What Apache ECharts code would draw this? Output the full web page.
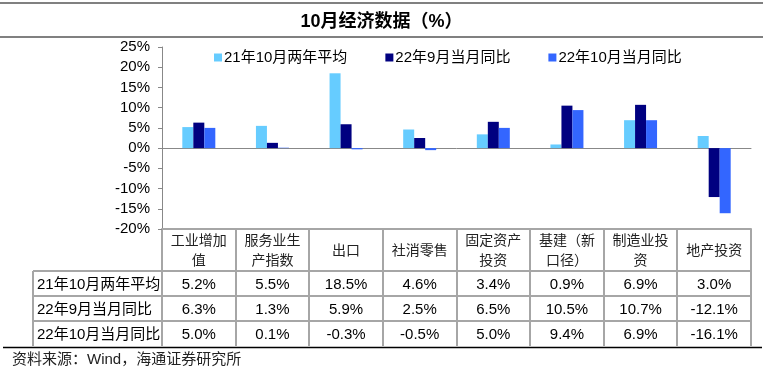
<!DOCTYPE html>
<html>
<head>
<meta charset="utf-8">
<script src="https://cdn.jsdelivr.net/npm/echarts@6/dist/echarts.min.js"></script>
<style>
html,body{margin:0;padding:0;background:#fff;}
#main{width:763px;height:376px;}
</style>
</head>
<body>
<div id="main"></div>
<script>
// 数据
var catLabels = ['工业增加\n值', '服务业生\n产指数', '出口', '社消零售', '固定资产\n投资', '基建（新\n口径）', '制造业投\n资', '地产投资'];
var seriesNames = ['21年10月两年平均', '22年9月当月同比', '22年10月当月同比'];
var avg2y = [5.2, 5.5, 18.5, 4.6, 3.4, 0.9, 6.9, 3.0];
var sep22 = [6.3, 1.3, 5.9, 2.5, 6.5, 10.5, 10.7, -12.1];
var oct22 = [5.0, 0.1, -0.3, -0.5, 5.0, 9.4, 6.9, -16.1];
var yTicks = [-20, -15, -10, -5, 0, 5, 10, 15, 20, 25];

var colors = ['#66CCFF', '#000080', '#3366FF'];
var FONT = 'Liberation Sans, Noto Sans CJK SC, sans-serif';
var gridLine = '#a6a6a6';

var myChart = echarts.init(document.getElementById('main'));

var seriesData = [avg2y, sep22, oct22];
var series = [];
for (var i = 0; i < seriesData.length; i++) {
	series.push({
		name: seriesNames[i],
		type: 'bar',
		barWidth: 11,
		barGap: '0%',
		itemStyle: {color: colors[i]},
		data: seriesData[i]
	});
}

var option = {
	animation: false,
	textStyle: {fontFamily: FONT},
	title: {
		text: '10月经济数据（%）',
		left: 'center',
		top: 8,
		textStyle: {fontSize: 18, fontWeight: 'bold', color: '#000', fontFamily: FONT}
	},
	legend: {
		top: 45,
		left: 209,
		itemWidth: 8,
		itemHeight: 8,
		itemGap: 38,
		icon: 'rect',
		textStyle: {fontSize: 15, color: '#000', padding: [0, 0, 0, -3]},
		data: seriesNames
	},
	grid: {left: 162, right: 12, top: 47, bottom: 147},
	xAxis: [{
		type: 'category',
		data: catLabels,
		axisLine: {onZero: true, lineStyle: {color: '#888', width: 1}},
		axisTick: {show: false},
		axisLabel: {show: false}
	}, {
		type: 'category',
		data: catLabels,
		position: 'bottom',
		axisLine: {onZero: false, lineStyle: {color: gridLine, width: 2}},
		axisTick: {show: false},
		axisLabel: {show: false}
	}],
	yAxis: {
		type: 'value',
		min: yTicks[0],
		max: yTicks[yTicks.length - 1],
		interval: 5,
		axisLine: {show: true, lineStyle: {color: '#888'}},
		axisTick: {show: true, length: 4, lineStyle: {color: '#888'}},
		splitLine: {show: false},
		axisLabel: {formatter: '{value}%', fontSize: 15, color: '#000', margin: 12}
	},
	series: series
};
myChart.setOption(option);

// 表格（放在图下方）
var buildTable = function () {
	var els = [];
	var x0 = myChart.convertToPixel({xAxisIndex: 0}, 0);
	var x1 = myChart.convertToPixel({xAxisIndex: 0}, 1);
	var band = x1 - x0;
	var left = x0 - band / 2;
	var right = left + band * catLabels.length;
	var rowTop = 229, headBottom = 271, rowH = 25, tableBottom = 346;
	var labelLeft = 33;

	// 顶部两条线
	els.push({type: 'line', shape: {x1: 0, y1: 3, x2: 763, y2: 3}, style: {stroke: '#808080', lineWidth: 2}});
	els.push({type: 'line', shape: {x1: 0, y1: 37, x2: 763, y2: 37}, style: {stroke: '#808080', lineWidth: 2}});

	// 竖线
	for (var k = 0; k <= catLabels.length; k++) {
		var xx = Math.round(left + band * k);
		els.push({type: 'line', shape: {x1: xx, y1: rowTop, x2: xx, y2: tableBottom}, style: {stroke: gridLine, lineWidth: 2}});
	}
	els.push({type: 'line', shape: {x1: labelLeft, y1: headBottom, x2: labelLeft, y2: tableBottom}, style: {stroke: gridLine, lineWidth: 2}});
	// 横线
	for (var r = 0; r < 3; r++) {
		var yy = headBottom + rowH * r;
		els.push({type: 'line', shape: {x1: labelLeft, y1: yy, x2: right, y2: yy}, style: {stroke: gridLine, lineWidth: 2}});
	}
	// 底部黑线
	els.push({type: 'line', shape: {x1: 3, y1: 347.5, x2: 762, y2: 347.5}, style: {stroke: '#000', lineWidth: 1.5}});

	// 表头
	for (var c = 0; c < catLabels.length; c++) {
		var cx = myChart.convertToPixel({xAxisIndex: 0}, c);
		els.push({type: 'text', x: cx, y: (rowTop + headBottom) / 2 + 1, style: {
			text: catLabels[c], fill: '#222', font: '14px ' + FONT, lineHeight: 20,
			align: 'center', verticalAlign: 'middle'
		}});
		for (var s = 0; s < seriesData.length; s++) {
			els.push({type: 'text', x: cx, y: headBottom + rowH * s + rowH / 2 + 1, style: {
				text: seriesData[s][c].toFixed(1) + '%', fill: '#000', font: '15px ' + FONT,
				align: 'center', verticalAlign: 'middle'
			}});
		}
	}
	// 行标题
	for (var s2 = 0; s2 < seriesNames.length; s2++) {
		els.push({type: 'text', x: labelLeft + 4, y: headBottom + rowH * s2 + rowH / 2 + 1, style: {
			text: seriesNames[s2], fill: '#000', font: '15px ' + FONT,
			align: 'left', verticalAlign: 'middle'
		}});
	}
	// 资料来源
	els.push({type: 'text', x: 12, y: 360, style: {
		text: '资料来源：Wind，海通证券研究所', fill: '#222', font: '15px ' + FONT,
		align: 'left', verticalAlign: 'middle'
	}});
	myChart.setOption({graphic: els});
};
buildTable();
</script>
</body>
</html>
